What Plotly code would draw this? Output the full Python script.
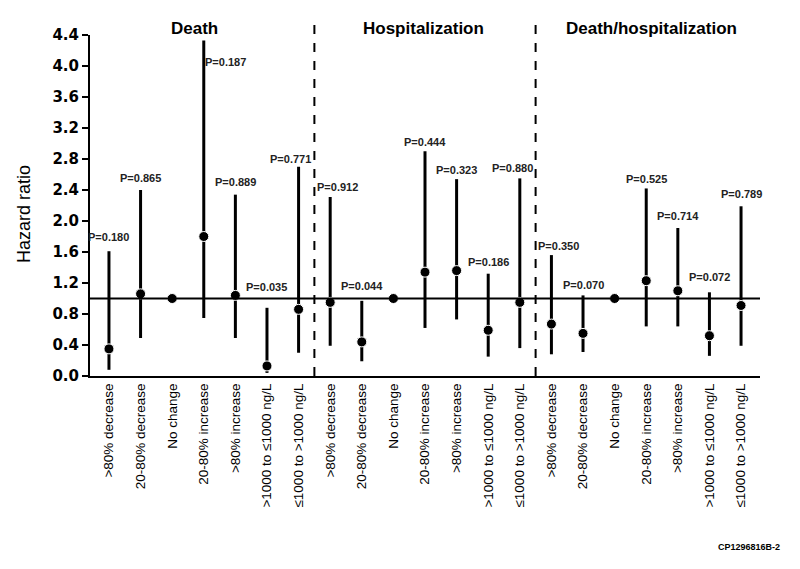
import plotly.graph_objects as go

# ---------------- data ----------------
categories = [">80% decrease", "20-80% decrease", "No change", "20-80% increase",
              ">80% increase", ">1000 to \u22641000 ng/L", "\u22641000 to >1000 ng/L"]
groups = ["Death", "Hospitalization", "Death/hospitalization"]

death_hr = [0.35, 1.06, 1.00, 1.80, 1.04, 0.13, 0.86]
death_lo = [0.08, 0.49, 1.00, 0.75, 0.49, 0.04, 0.30]
death_hi = [1.61, 2.40, 1.00, 4.33, 2.34, 0.88, 2.70]
death_p = ["P=0.180", "P=0.865", "", "P=0.187", "P=0.889", "P=0.035", "P=0.771"]

hosp_hr = [0.95, 0.44, 1.00, 1.34, 1.36, 0.59, 0.95]
hosp_lo = [0.39, 0.19, 1.00, 0.62, 0.73, 0.25, 0.36]
hosp_hi = [2.31, 0.97, 1.00, 2.90, 2.54, 1.32, 2.55]
hosp_p = ["P=0.912", "P=0.044", "", "P=0.444", "P=0.323", "P=0.186", "P=0.880"]

dh_hr = [0.67, 0.55, 1.00, 1.23, 1.10, 0.52, 0.91]
dh_lo = [0.28, 0.31, 1.00, 0.64, 0.64, 0.26, 0.39]
dh_hi = [1.56, 1.04, 1.00, 2.42, 1.91, 1.08, 2.19]
dh_p = ["P=0.350", "P=0.070", "", "P=0.525", "P=0.714", "P=0.072", "P=0.789"]

y_ticks = [0.0, 0.4, 0.8, 1.2, 1.6, 2.0, 2.4, 2.8, 3.2, 3.6, 4.0, 4.4]
footnote = "CP1296816B-2"

# ---------------- style: label offsets (xshift, yshift in px) ----------------
p_offsets = [
    [(0, 14), (0, 12), (0, 0), (22, -22), (0, 13), (0, 21), (-8, 8)],
    [(7, 10), (0, 15), (0, 0), (0, 9), (0, 9), (0, 12), (-7, 10)],
    [(7, 9), (0, 10), (0, 0), (0, 9), (0, 12), (0, 15), (0, 12)],
]

all_hr = [death_hr, hosp_hr, dh_hr]
all_lo = [death_lo, hosp_lo, dh_lo]
all_hi = [death_hi, hosp_hi, dh_hi]
all_p = [death_p, hosp_p, dh_p]

fig = go.Figure()
n = len(categories)
annotations = []
tickvals, ticktext = [], []
for g in range(len(groups)):
    xs = [g * n + i for i in range(n)]
    hr, lo, hi = all_hr[g], all_lo[g], all_hi[g]
    fig.add_trace(go.Scatter(
        x=xs, y=hr, mode="markers",
        marker=dict(color="black", size=10, line=dict(color="white", width=1)),
        error_y=dict(type="data", symmetric=False,
                     array=[h - v for h, v in zip(hi, hr)],
                     arrayminus=[v - l for v, l in zip(hr, lo)],
                     color="black", thickness=3, width=0),
        showlegend=False, cliponaxis=False,
    ))
    tickvals += xs
    ticktext += categories
    for i, p in enumerate(all_p[g]):
        if not p:
            continue
        dx, dy = p_offsets[g][i]
        annotations.append(dict(
            x=xs[i], y=hi[i], xref="x", yref="y", text=p, showarrow=False,
            xshift=dx, yshift=dy, xanchor="center", yanchor="middle",
            font=dict(family="Arial", size=11, color="#222222", weight="bold"),
        ))

# group titles
title_x = [2.72, 9.94, 17.18]
for g, name in enumerate(groups):
    annotations.append(dict(
        x=title_x[g], y=1.0176, xref="x", yref="paper", text=name, showarrow=False,
        xanchor="center", yanchor="middle",
        font=dict(family="Arial", size=17, color="black", weight="bold"),
    ))

# plot area in page px: x 90..760, y 35..376
def px_to_paper(px, py):
    return (px - 90) / 670, (376 - py) / 341

tx, ty = px_to_paper(24, 214)
annotations.append(dict(
    x=tx, y=ty, xref="paper", yref="paper", text="Hazard ratio",
    textangle=-90, showarrow=False, xanchor="center", yanchor="middle",
    font=dict(family="Arial", size=18, color="black"),
))

fx, fy = px_to_paper(749, 546.5)
annotations.append(dict(
    x=fx, y=fy, xref="paper", yref="paper", text=footnote, showarrow=False,
    xanchor="center", yanchor="middle",
    font=dict(family="Arial", size=9, color="black", weight="bold"),
))

shapes = [
    dict(type="line", xref="x", yref="y", x0=-0.6, x1=20.6, y0=1.0, y1=1.0,
         line=dict(color="black", width=2)),
    dict(type="line", xref="x", yref="paper", x0=6.5, x1=6.5, y0=0, y1=1.03,
         line=dict(color="black", width=2, dash="dash")),
    dict(type="line", xref="x", yref="paper", x0=13.5, x1=13.5, y0=0, y1=1.03,
         line=dict(color="black", width=2, dash="dash")),
]

# page body has an 8px default margin; figure sized/margined so the plot area
# lands at x 90..760, y 35..376 in the 800x569 window
fig.update_layout(
    width=784, height=553,
    margin=dict(l=82, r=32, t=27, b=185),
    paper_bgcolor="white", plot_bgcolor="white",
    annotations=annotations, shapes=shapes,
    xaxis=dict(range=[-0.6, 20.6], tickmode="array", tickvals=tickvals, ticktext=ticktext,
               tickangle=-90, showline=True, linecolor="black", linewidth=2,
               showgrid=False, zeroline=False, ticks="",
               tickfont=dict(family="Arial", size=13.5, color="black")),
    yaxis=dict(range=[0, 4.4], tickmode="array", tickvals=y_ticks,
               ticktext=[f"{v:.1f}" for v in y_ticks],
               showline=True, linecolor="black", linewidth=2,
               ticks="outside", ticklen=6, tickwidth=2, tickcolor="black",
               showgrid=False, zeroline=False,
               tickfont=dict(family="DejaVu Sans", size=15, color="black", weight="bold")),
)

fig.write_html("out.html")
